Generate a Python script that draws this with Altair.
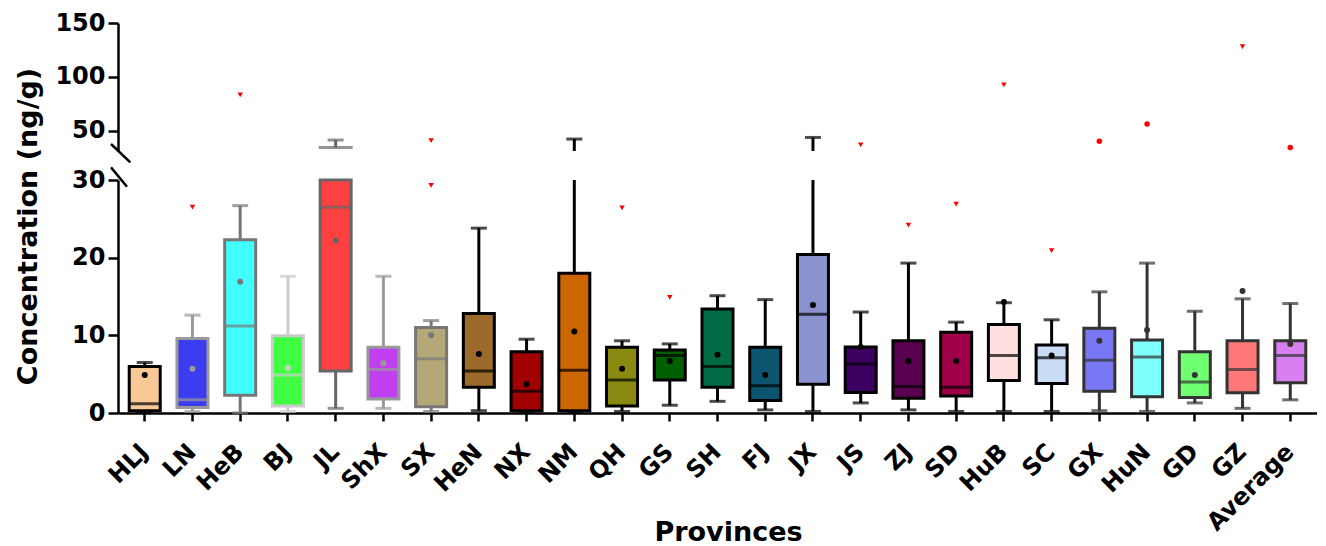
import altair as alt
import pandas as pd

provs = ["HLJ", "LN", "HeB", "BJ", "JL", "ShX", "SX", "HeN", "NX", "NM", "QH", "GS", "SH",
         "FJ", "JX", "JS", "ZJ", "SD", "HuB", "SC", "GX", "HuN", "GD", "GZ", "Average"]
whisk_lo = [0.1, 0.2, 0.0, 0.2, 0.6, 0.6, 0.2, 0.3, 0.1, 0.1, 0.2, 1.0, 1.5,
            0.4, 0.2, 1.3, 0.4, 0.2, 0.2, 0.2, 0.3, 0.2, 1.3, 0.6, 1.7]
q1 = [0.3, 0.7, 2.3, 0.9, 5.4, 1.8, 0.8, 3.3, 0.3, 0.3, 0.9, 4.25, 3.3,
      1.6, 3.7, 2.65, 1.9, 2.2, 4.2, 3.8, 2.8, 2.1, 2.0, 2.6, 3.9]
median = [1.2, 1.7, 11.2, 4.9, 26.5, 5.6, 7.0, 5.4, 2.8, 5.5, 4.25, 7.4, 6.0,
          3.5, 12.7, 6.3, 3.4, 3.3, 7.4, 7.1, 6.8, 7.2, 4.0, 5.6, 7.4]
q3 = [6.0, 9.6, 22.3, 9.95, 34.3, 8.45, 11.0, 12.8, 7.9, 18.0, 8.45, 8.1, 13.4,
      8.45, 20.4, 8.5, 9.3, 10.4, 11.4, 8.75, 10.9, 9.4, 7.9, 9.3, 9.3]
whisk_hi = [6.5, 12.6, 26.7, 17.6, 41.2, 17.6, 11.9, 23.8, 9.5, 42.1, 9.3, 8.9, 15.1,
            14.6, 43.6, 13.0, 19.3, 11.7, 14.2, 12.0, 15.6, 19.3, 13.1, 14.7, 14.1]
means = [4.9, 5.7, 16.9, 5.8, 22.2, 6.4, 10.0, 7.6, 3.7, 10.5, 5.7, 6.7, 7.5,
         4.9, 13.9, 8.5, 6.7, 6.7, 14.3, 7.4, 9.3, 10.7, 4.9, 15.7, 8.9]

fills = ["#FAC896", "#3C3CF0", "#40FFFF", "#40FF40", "#FF4040", "#C040F0", "#B4A878",
         "#9C6A2A", "#A00000", "#CC6600", "#8A8A10", "#006000", "#006B45", "#0C5570",
         "#8A92D0", "#3C0060", "#5A0050", "#A00048", "#FFE0E0", "#C8DCF5",
         "#7878F5", "#80FFFF", "#70FF70", "#FF7878", "#D880F0"]
strokes = (["#000000", "#999999", "#777777", "#CCCCCC", "#666666", "#999999", "#777777"]
           + ["#000000"] * 13 + ["#333333"] * 5)

out_prov = ["LN", "HeB", "SX", "SX", "QH", "GS", "JS", "ZJ", "SD", "HuB", "SC",
            "GX", "HuN", "GZ", "Average"]
out_val = [26.5, 83.1, 29.3, 40.6, 26.4, 14.9, 36.6, 24.2, 26.9, 92.4, 20.9,
           40.0, 56.1, 128.0, 34.3]
out_shape = ["tri"] * 11 + ["dot", "dot", "tri", "dot"]

box = pd.DataFrame(dict(prov=provs, lo=whisk_lo, q1=q1, med=median, q3=q3,
                        hi=whisk_hi, mean=means))
outl = pd.DataFrame(dict(prov=out_prov, value=out_val, shape=out_shape))
one = pd.DataFrame({"k": [0]})

FONT = "DejaVu Sans"
W = 1199
H_TOP = 128
H_BOT = 233

xscale = alt.Scale(domain=provs, paddingOuter=0.06, paddingInner=0)
x_axis = alt.Axis(title="Provinces", labelAngle=-45, labelAlign="right",
                  labelBaseline="middle", labelPadding=27, tickSize=8,
                  titleX=610, titleY=127, titleBaseline="alphabetic")
x_bot = alt.X("prov:N", scale=xscale, sort=provs, axis=x_axis)
x_top = alt.X("prov:N", scale=xscale, sort=provs, axis=None)

col_scale = alt.Scale(domain=provs, range=strokes)
fill_scale = alt.Scale(domain=provs, range=fills)
color_enc = alt.Color("prov:N", scale=col_scale, legend=None)
stroke_enc = alt.Stroke("prov:N", scale=col_scale, legend=None)
fill_enc = alt.Fill("prov:N", scale=fill_scale, legend=None)
shape_enc = alt.Shape("shape:N", scale=alt.Scale(domain=["tri", "dot"],
                                                 range=["triangle-down", "circle"]),
                      legend=None)

# ---------- lower segment (0-30) ----------
ylo_scale = alt.Scale(domain=[0, 30], nice=False, zero=False)
ylo_axis = alt.Axis(values=[0, 10, 20, 30], title="Concentration (ng/g)", tickSize=10,
                    labelPadding=3, titleAngle=270, titleX=-82, titleY=46,
                    titleBaseline="alphabetic", titleAlign="center")


def ylo(f):
    return alt.Y(f"{f}:Q", scale=ylo_scale, axis=ylo_axis)


b = alt.Chart(box)
w1 = b.mark_rule(strokeWidth=3).encode(x=x_bot, y=ylo("lo"), y2="q1:Q", color=color_enc)
w2 = (b.transform_calculate(q3c="min(datum.q3, 30)", hic="min(datum.hi, 30)")
      .transform_filter("datum.q3 < 30")
      .mark_rule(strokeWidth=3)
      .encode(x=x_bot, y=ylo("q3c"), y2="hic:Q", color=color_enc))
cap_lo = b.mark_tick(size=16, thickness=3).encode(x=x_bot, y=ylo("lo"), color=color_enc)
cap_hi = (b.transform_filter("datum.hi <= 30").mark_tick(size=16, thickness=3)
          .encode(x=x_bot, y=ylo("hi"), color=color_enc))
box_l = (b.transform_calculate(q3c="min(datum.q3, 30)")
         .mark_bar(size=31, strokeWidth=3)
         .encode(x=x_bot, y=ylo("q1"), y2="q3c:Q", fill=fill_enc, stroke=stroke_enc))
med_l = (b.transform_filter("datum.med <= 30").mark_tick(size=33, thickness=3)
         .encode(x=x_bot, y=ylo("med"), color=color_enc))
mean_l = (b.transform_filter("datum.mean <= 30")
          .mark_point(filled=True, size=36, opacity=1)
          .encode(x=x_bot, y=ylo("mean"), color=color_enc))
out_l = (alt.Chart(outl).transform_filter("datum.value <= 30")
         .mark_point(filled=True, size=30, opacity=1, color="#FF0000")
         .encode(x=x_bot, y=ylo("value"), shape=shape_enc))
slash_l = alt.Chart(one).mark_rule(strokeWidth=2.5, color="black").encode(
    x=alt.value(-7), x2=alt.value(9), y=alt.value(-12.6), y2=alt.value(6.7))

bottom = alt.layer(w1, w2, cap_lo, cap_hi, box_l, med_l, mean_l, out_l, slash_l).properties(
    width=W, height=H_BOT)

# ---------- upper segment (31-150) ----------
yhi_scale = alt.Scale(domain=[31, 150], nice=False, zero=False)
yhi_axis = alt.Axis(values=[50, 100, 150], title=None, tickSize=10, labelPadding=3)


def yhi(f):
    return alt.Y(f"{f}:Q", scale=yhi_scale, axis=yhi_axis)


w_top = (b.transform_filter("datum.hi > 31")
         .transform_calculate(st="max(datum.q3, 31)")
         .mark_rule(strokeWidth=3)
         .encode(x=x_top, y=yhi("st"), y2="hi:Q", color=color_enc))
cap_top = (b.transform_filter("datum.hi > 31").mark_tick(size=16, thickness=3)
           .encode(x=x_top, y=yhi("hi"), color=color_enc))
edge_top = (b.transform_filter("datum.q3 > 31").mark_tick(size=34, thickness=3)
            .encode(x=x_top, y=yhi("q3"), color=color_enc))
out_t = (alt.Chart(outl).transform_filter("datum.value > 31")
         .mark_point(filled=True, size=30, opacity=1, color="#FF0000")
         .encode(x=x_top, y=yhi("value"), shape=shape_enc))
slash_t = alt.Chart(one).mark_rule(strokeWidth=2.5, color="black").encode(
    x=alt.value(-7), x2=alt.value(12.3), y=alt.value(121), y2=alt.value(139.4))

top = alt.layer(w_top, cap_top, edge_top, out_t, slash_t).properties(width=W, height=H_TOP)

chart = (alt.vconcat(top, bottom, spacing=29, bounds="flush")
         .properties(padding={"left": 5, "top": 3, "right": 0, "bottom": 0})
         .configure_view(stroke=None)
         .configure_axis(labelFont=FONT, labelFontWeight="bold", labelFontSize=24,
                         titleFont=FONT, titleFontWeight="bold", titleFontSize=27,
                         labelColor="black", titleColor="black", domainColor="black",
                         tickColor="black", domainWidth=2.5, tickWidth=2.5, grid=False))

chart.save("out.html", embed_options={"renderer": "svg", "actions": False})
